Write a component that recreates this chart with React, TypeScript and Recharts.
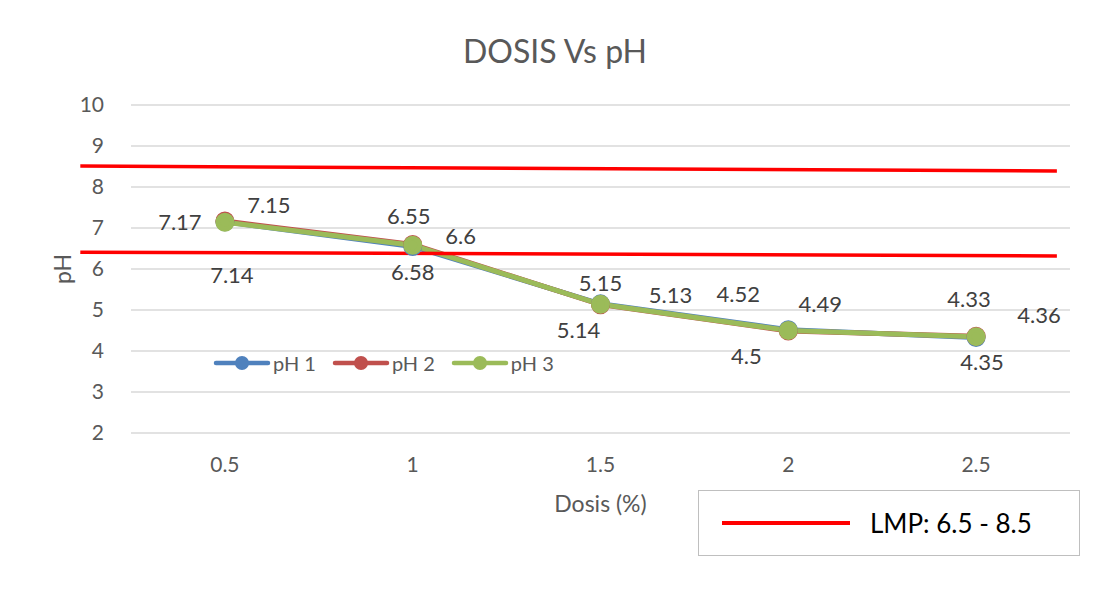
import { LineChart, Line, XAxis, YAxis, CartesianGrid, ReferenceLine, Legend, LabelList } from 'recharts'

const DOSIS = [0.5, 1, 1.5, 2, 2.5]
const PH1 = [7.15, 6.55, 5.15, 4.52, 4.33]
const PH2 = [7.17, 6.6, 5.13, 4.49, 4.36]
const PH3 = [7.14, 6.58, 5.14, 4.5, 4.35]
const X_TICKS = [0.5, 1, 1.5, 2, 2.5]
const Y_TICKS = [2, 3, 4, 5, 6, 7, 8, 9, 10]

// hand-drawn LMP lines in the original: slightly sloped, reaching past the axis
const LMP_X = [0.115, 2.715]
const LMP_UPPER = [8.51, 8.39]
const LMP_LOWER = [6.41, 6.32]

// label offsets (px from the point), placed by hand in the original
const OFFSETS_1 = [[44, -17], [-4, -31], [0, -21], [-50, -36], [-7, -39]]
const OFFSETS_2 = [[-45, 0], [48, -9], [70, -10], [32, -27], [63, -22]]
const OFFSETS_3 = [[7, 52], [0, 26], [-22, 25], [-42, 25], [6, 25]]

const FONT = 'Lato, "Noto Sans", sans-serif'
const TEXT = '#595959'

const data = DOSIS.map((d, i) => ({ dosis: d, ph1: PH1[i], ph2: PH2[i], ph3: PH3[i] }))

function makeLabel(offsets: number[][]) {
  return (props: any) => {
    const { x, y, value, index } = props
    const [dx, dy] = offsets[index] ?? [0, -20]
    return (
      <text
        x={Number(x) + dx}
        y={Number(y) + dy}
        textAnchor="middle"
        dominantBaseline="central"
        fontSize={22}
        fontFamily={FONT}
        fill="#404040"
      >
        {value}
      </text>
    )
  }
}

function LegendContent(props: any) {
  const items = props.payload ?? []
  return (
    <div style={{ display: 'flex', alignItems: 'center', fontFamily: FONT, fontSize: 20, color: TEXT }}>
      {items.map((it: any) => (
        <div key={it.value} style={{ display: 'flex', alignItems: 'center', marginRight: 16 }}>
          <svg width={58} height={18}>
            <line x1={3} y1={9} x2={55} y2={9} stroke={it.color} strokeWidth={4.5} strokeLinecap="round" />
            <circle cx={29} cy={9} r={7} fill={it.color} />
          </svg>
          <span style={{ marginLeft: 2 }}>{it.value}</span>
        </div>
      ))}
    </div>
  )
}

export default function App() {
  return (
    <div style={{ position: 'relative', width: 1093, height: 608, margin: -8, overflow: 'hidden', background: '#fff', fontFamily: FONT }}>
      <div style={{ position: 'absolute', left: 7, top: 6, width: 1120, height: 640, border: '1.5px solid #d9d9d9' }} />
      <div style={{ position: 'absolute', left: 0, top: 31, width: 1110, textAlign: 'center', fontSize: 32, lineHeight: '40px', color: TEXT }}>
        DOSIS Vs pH
      </div>
      <div style={{ position: 'absolute', left: 0, top: 0 }}>
        <LineChart width={1093} height={608} data={data} margin={{ top: 105, right: 23, bottom: 90, left: 0 }}>
          <CartesianGrid vertical={false} stroke="#d9d9d9" strokeWidth={1.5} />
          <XAxis
            dataKey="dosis"
            type="number"
            domain={[0.25, 2.75]}
            ticks={X_TICKS}
            axisLine={false}
            tickLine={false}
            tickMargin={18}
            height={85}
            tick={{ fontSize: 21, fill: TEXT, fontFamily: FONT }}
            label={{ value: 'Dosis (%)', position: 'insideBottom', offset: 6, fontSize: 23, fill: TEXT, fontFamily: FONT }}
          />
          <YAxis
            type="number"
            domain={[2, 10]}
            ticks={Y_TICKS}
            axisLine={false}
            tickLine={false}
            width={131}
            tickMargin={21}
            tick={{ fontSize: 21, fill: TEXT, fontFamily: FONT }}
            label={{ value: 'pH', angle: -90, position: 'center', dx: -3, fontSize: 23, fill: TEXT, fontFamily: FONT }}
          />
          <Legend
            verticalAlign="top"
            content={<LegendContent />}
            wrapperStyle={{ position: 'absolute', left: 213, top: 351, width: 'auto', height: 0, overflow: 'visible' }}
          />
          <Line
            dataKey="ph1"
            name="pH 1"
            stroke="#4F81BD"
            strokeWidth={5}
            dot={{ r: 7, fill: '#4F81BD', stroke: '#4F81BD' }}
            isAnimationActive={false}
          >
            <LabelList dataKey="ph1" content={makeLabel(OFFSETS_1)} />
          </Line>
          <Line
            dataKey="ph2"
            name="pH 2"
            stroke="#C0504D"
            strokeWidth={5}
            dot={{ r: 7, fill: '#C0504D', stroke: '#C0504D' }}
            isAnimationActive={false}
          >
            <LabelList dataKey="ph2" content={makeLabel(OFFSETS_2)} />
          </Line>
          <Line
            dataKey="ph3"
            name="pH 3"
            stroke="#9BBB59"
            strokeWidth={5}
            dot={{ r: 7, fill: '#9BBB59', stroke: '#9BBB59' }}
            isAnimationActive={false}
          >
            <LabelList dataKey="ph3" content={makeLabel(OFFSETS_3)} />
          </Line>
          <ReferenceLine
            segment={[{ x: LMP_X[0], y: LMP_UPPER[0] }, { x: LMP_X[1], y: LMP_UPPER[1] }]}
            stroke="#FF0000"
            strokeWidth={3.5}
            ifOverflow="visible"
          />
          <ReferenceLine
            segment={[{ x: LMP_X[0], y: LMP_LOWER[0] }, { x: LMP_X[1], y: LMP_LOWER[1] }]}
            stroke="#FF0000"
            strokeWidth={3.5}
            ifOverflow="visible"
          />
        </LineChart>
      </div>
      <div style={{ position: 'absolute', left: 698, top: 490, width: 380, height: 64, border: '1.5px solid #bfbfbf', display: 'flex', alignItems: 'center' }}>
        <div style={{ marginLeft: 23, width: 128, height: 4, background: '#FF0000' }} />
        <span style={{ marginLeft: 20, fontSize: 26, color: '#000' }}>LMP: 6.5 - 8.5</span>
      </div>
    </div>
  )
}
